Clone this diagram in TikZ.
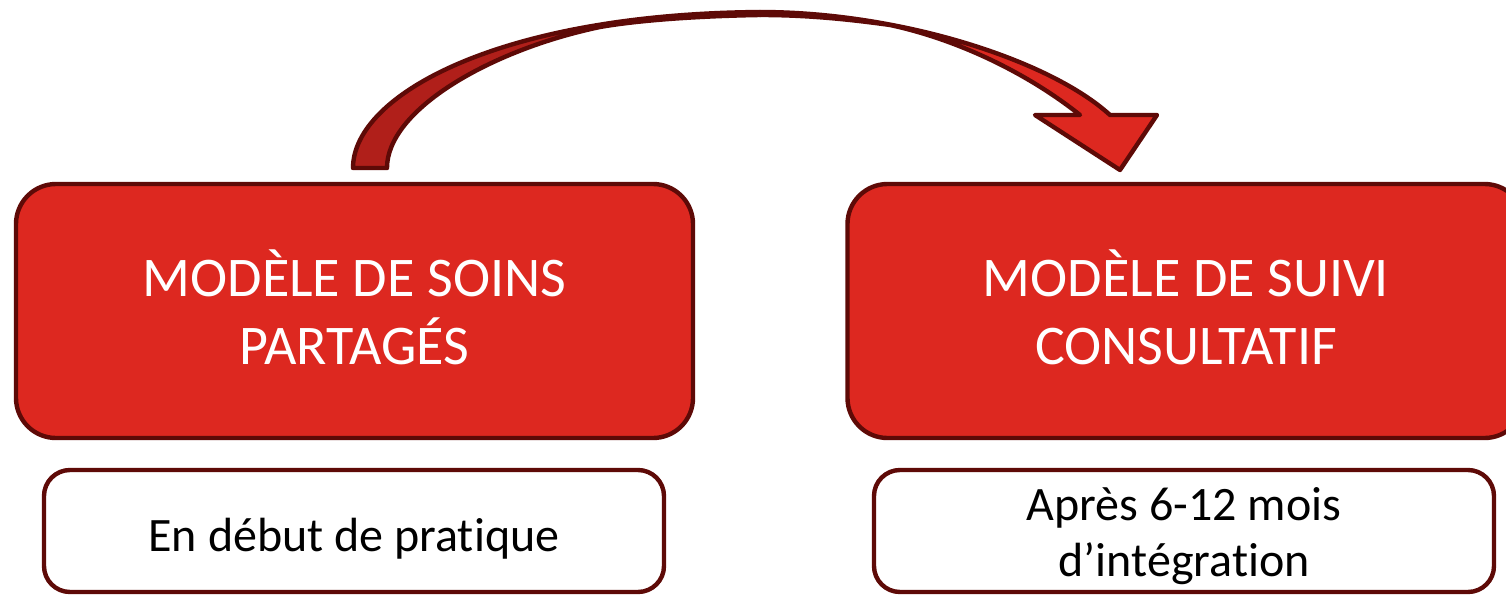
\documentclass[tikz,border=0pt]{standalone}
\usepackage{fontspec}
\setmainfont[RawFeature={-liga}]{Carlito}
\definecolor{boxred}{HTML}{DD2820}
\definecolor{backred}{HTML}{B01F1A}
\definecolor{edge}{HTML}{5E0A07}
\begin{document}
\begin{tikzpicture}[x=0.5pt,y=-0.5pt,
  redbox/.style={draw=edge,fill=boxred,line width=2.2pt,rounded corners=20pt,
    minimum width=338.5pt,minimum height=127pt,inner sep=0pt},
  redtext/.style={align=center,text=white,font=\fontsize{28}{34}\selectfont,inner sep=0pt},
  whitebox/.style={draw=edge,fill=white,line width=2.2pt,rounded corners=13pt,
    minimum width=310pt,minimum height=61pt,inner sep=0pt},
  whitetext/.style={align=center,text=black,inner sep=0pt,
    font=\fontsize{24}{28}\selectfont},
  arrowpart/.style={draw=edge,line width=2.2pt,line join=round}]
\useasboundingbox (0,0) rectangle (1506,595);
\clip (0,0) rectangle (1506,595);
% boxes
\node[redbox] (soins) at (354.5,311) {};
\node[redbox] (suivi) at (1186,311) {};
\node[redtext] (soinsT) at (354.5,307) {MODÈLE DE SOINS\\PARTAGÉS};
\node[redtext] (suiviT) at (1186,307) {MODÈLE DE SUIVI\\CONSULTATIF};
\node[whitebox] (debut) at (354,531) {};
\node[whitebox] (apres) at (1184,531) {};
\node[whitetext] (debutT) at (354,539) {En début de pratique};
\node[whitetext] (apresT) at (1184,536) {Après 6-12 mois\\d’intégration};
% curved arrow: back (dark) part
\coordinate (tailL) at (353,168);
\coordinate (tailR) at (387,168);
\coordinate (top) at (760,12);
\coordinate (tip) at (1120,170);
\path[arrowpart,fill=backred] (tailL) .. controls (353,95) and (500,14) .. (top)
  -- (760,15) .. controls (700,16) and (640,20) .. (600,27)
  .. controls (490,50) and (387,110) .. (tailR) -- cycle;
% front (bright) part with head
\path[arrowpart,fill=boxred] (top) .. controls (900,12) and (1050,60) .. (1110,115)
  -- (1157,115) -- (tip) -- (1035,115) -- (1080,115)
  .. controls (1030,75) and (960,40) .. (890,25)
  .. controls (840,18) and (800,15) .. (760,15) -- cycle;
\end{tikzpicture}
\end{document}
